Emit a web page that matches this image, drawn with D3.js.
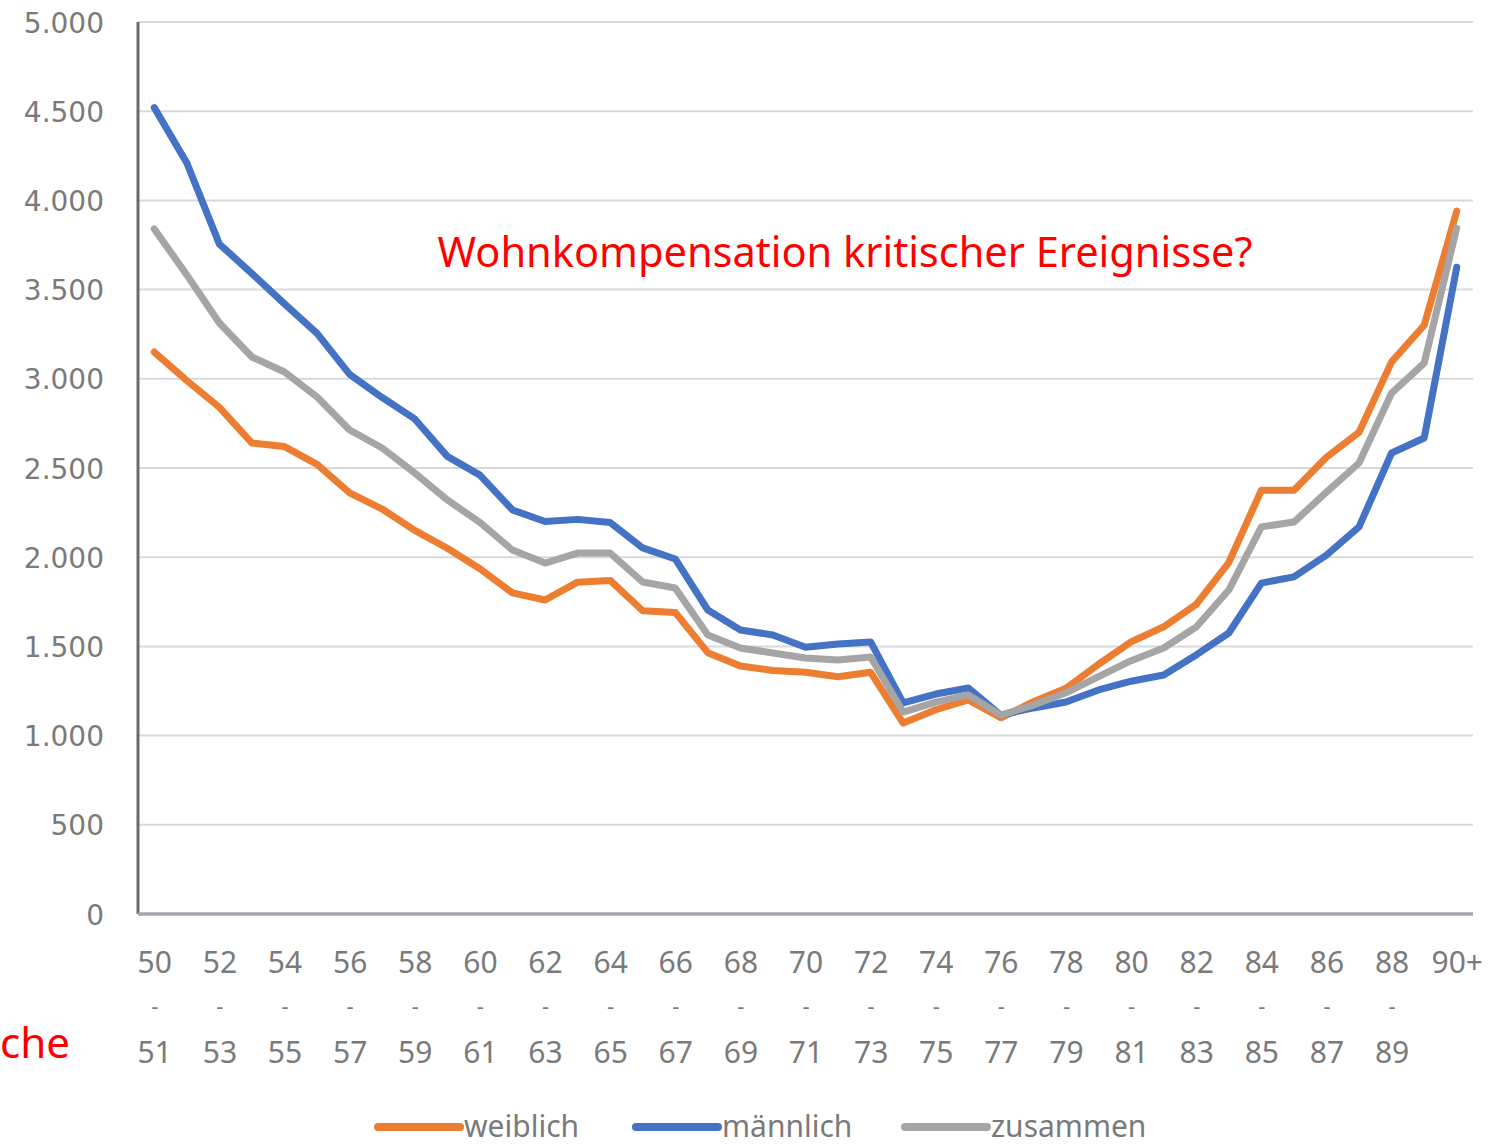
<!DOCTYPE html>
<html>
<head>
<meta charset="utf-8">
<script src="https://cdn.jsdelivr.net/npm/d3@7"></script>
<style>
  body { margin: 0; background: #fff; }
  svg { display: block; }
</style>
</head>
<body>
<div id="chart-space"></div>
<script>
// Age groups (x categories)
const ageGroups = [
  "50 - 51", "51 - 52", "52 - 53", "53 - 54", "54 - 55", "55 - 56", "56 - 57", "57 - 58",
  "58 - 59", "59 - 60", "60 - 61", "61 - 62", "62 - 63", "63 - 64", "64 - 65", "65 - 66",
  "66 - 67", "67 - 68", "68 - 69", "69 - 70", "70 - 71", "71 - 72", "72 - 73", "73 - 74",
  "74 - 75", "75 - 76", "76 - 77", "77 - 78", "78 - 79", "79 - 80", "80 - 81", "81 - 82",
  "82 - 83", "83 - 84", "84 - 85", "85 - 86", "86 - 87", "87 - 88", "88 - 89", "89 - 90",
  "90+"
]

// Series values
const weiblich = [
  3150, 2990, 2840, 2640, 2620, 2520, 2360, 2270, 2150, 2050, 1935, 1800, 1760, 1860, 1870, 1700,
  1690, 1465, 1390, 1365, 1355, 1330, 1355, 1070, 1145, 1200, 1100, 1190, 1265, 1400, 1525, 1610,
  1735, 1970, 2375, 2375, 2560, 2700, 3095, 3300, 3940
]
const maennlich = [
  4520, 4210, 3755, 3590, 3420, 3255, 3025, 2895, 2775, 2565, 2460, 2265, 2200, 2212, 2195, 2052,
  1990, 1704, 1592, 1564, 1495, 1513, 1525, 1183, 1233, 1267, 1115, 1155, 1188, 1256, 1305, 1340,
  1452, 1575, 1855, 1890, 2012, 2170, 2584, 2668, 3625
]
const zusammen = [
  3840, 3582, 3313, 3122, 3038, 2898, 2713, 2612, 2472, 2321, 2195, 2040, 1967, 2023, 2023, 1861,
  1827, 1564, 1491, 1463, 1435, 1424, 1441, 1132, 1188, 1228, 1115, 1171, 1240, 1330, 1420, 1491,
  1609, 1816, 2170, 2197, 2365, 2528, 2920, 3088, 3845
]

const seriesNames = ["weiblich", "männlich", "zusammen"]
const yTicks = [0, 500, 1000, 1500, 2000, 2500, 3000, 3500, 4000, 4500, 5000]

const titleText = "Wohnkompensation kritischer Ereignisse?"

// Configuration
const CONFIG = {
  width: 1493,
  height: 1146,
  plot: { left: 138, right: 1473, top: 22, bottom: 914 },
  colors: {
    series: ["#ED7D31", "#4472C4", "#A5A5A5"],
    grid: "#d9d9d9",
    yAxis: "#6b6b6b",
    xAxis: "#a4a6b0",
    tick: "#7a7a7a",
    note: "#ff0000"
  }
}

const de = d3.formatLocale({ decimal: ",", thousands: ".", grouping: [3], currency: ["", " €"] })
const fmt = de.format(",")

function createChart() {
  const svg = d3.select("#chart-space")
    .append("svg")
    .attr("width", CONFIG.width)
    .attr("height", CONFIG.height)

  const { left, right, top, bottom } = CONFIG.plot

  const x = d3.scalePoint()
    .domain(ageGroups)
    .range([left, right])
    .padding(0.5)

  const y = d3.scaleLinear()
    .domain([0, 5000])
    .range([bottom, top])

  // Gridlines
  svg.append("g")
    .selectAll("line")
    .data(yTicks.filter(d => d > 0))
    .join("line")
    .attr("x1", left)
    .attr("x2", right)
    .attr("y1", d => y(d))
    .attr("y2", d => y(d))
    .attr("stroke", CONFIG.colors.grid)
    .attr("stroke-width", 2)

  // Y axis labels
  const yAxis = svg.append("g")
    .attr("transform", `translate(${left - 34}, 0)`)
    .call(d3.axisLeft(y).tickValues(yTicks).tickFormat(fmt).tickSize(0).tickPadding(0))
  yAxis.select(".domain").remove()
  yAxis.selectAll("text")
    .attr("fill", CONFIG.colors.tick)
    .style("font-family", "DejaVu Sans")
    .style("font-size", "28px")
    .attr("dy", "0.36em")

  // Y axis line
  svg.append("line")
    .attr("x1", left).attr("x2", left)
    .attr("y1", top).attr("y2", bottom)
    .attr("stroke", CONFIG.colors.yAxis)
    .attr("stroke-width", 3)

  // Lines
  const allSeries = [weiblich, maennlich, zusammen]
  const line = d3.line()
    .x((d, i) => x(ageGroups[i]))
    .y(d => y(d))

  svg.append("g")
    .selectAll("path")
    .data(allSeries)
    .join("path")
    .attr("d", d => line(d))
    .attr("fill", "none")
    .attr("stroke", (d, i) => CONFIG.colors.series[i])
    .attr("stroke-width", 7)
    .attr("stroke-linejoin", "round")
    .attr("stroke-linecap", "round")

  // X axis line
  svg.append("line")
    .attr("x1", left).attr("x2", right)
    .attr("y1", bottom).attr("y2", bottom)
    .attr("stroke", CONFIG.colors.xAxis)
    .attr("stroke-width", 3.5)

  // X labels (every other category, wrapped on the dash)
  const xAxis = svg.append("g")
    .attr("transform", `translate(0, ${bottom})`)
    .call(d3.axisBottom(x).tickValues(ageGroups.filter((d, i) => i % 2 === 0)).tickSize(0).tickPadding(0))
  xAxis.select(".domain").remove()
  xAxis.selectAll("text").each(function (d) {
    const t = d3.select(this)
    const parts = d.includes(" - ") ? [d.split(" - ")[0], "-", d.split(" - ")[1]] : [d]
    t.text(null)
      .attr("y", 0)
      .attr("dy", null)
      .attr("fill", CONFIG.colors.tick)
      .style("font-family", "Noto Sans")
      .style("font-size", "30px")
    parts.forEach((p, k) => {
      t.append("tspan")
        .attr("x", 0)
        .attr("y", p === "-" ? 100 : 59 + k * 45)
        .style("font-size", p === "-" ? "22px" : "30px")
        .text(p)
    })
  })

  // Legend (kept just inside the bottom edge)
  const legendX = [378, 636, 905]
  const legend = svg.append("g")
    .selectAll("g")
    .data(seriesNames)
    .join("g")
    .attr("transform", (d, i) => `translate(${legendX[i]}, 1127)`)
  legend.append("line")
    .attr("x1", 0).attr("x2", 82)
    .attr("stroke", (d, i) => CONFIG.colors.series[i])
    .attr("stroke-width", 8)
    .attr("stroke-linecap", "round")
  legend.append("text")
    .attr("x", 86)
    .attr("y", 10)
    .attr("fill", CONFIG.colors.tick)
    .style("font-family", "Noto Sans")
    .style("font-size", "30px")
    .text(d => d)

  // Red annotation
  svg.append("text")
    .attr("x", 845)
    .attr("y", 267)
    .attr("text-anchor", "middle")
    .attr("fill", CONFIG.colors.note)
    .style("font-family", "Noto Sans")
    .style("font-size", "42px")
    .attr("textLength", 815)
    .attr("lengthAdjust", "spacingAndGlyphs")
    .text(titleText)

  svg.append("text")
    .attr("x", 0)
    .attr("y", 1058)
    .attr("fill", CONFIG.colors.note)
    .style("font-family", "Noto Sans")
    .style("font-size", "42px")
    .attr("textLength", 70)
    .attr("lengthAdjust", "spacingAndGlyphs")
    .text("che")
}

document.addEventListener("DOMContentLoaded", createChart)
</script>
</body>
</html>
